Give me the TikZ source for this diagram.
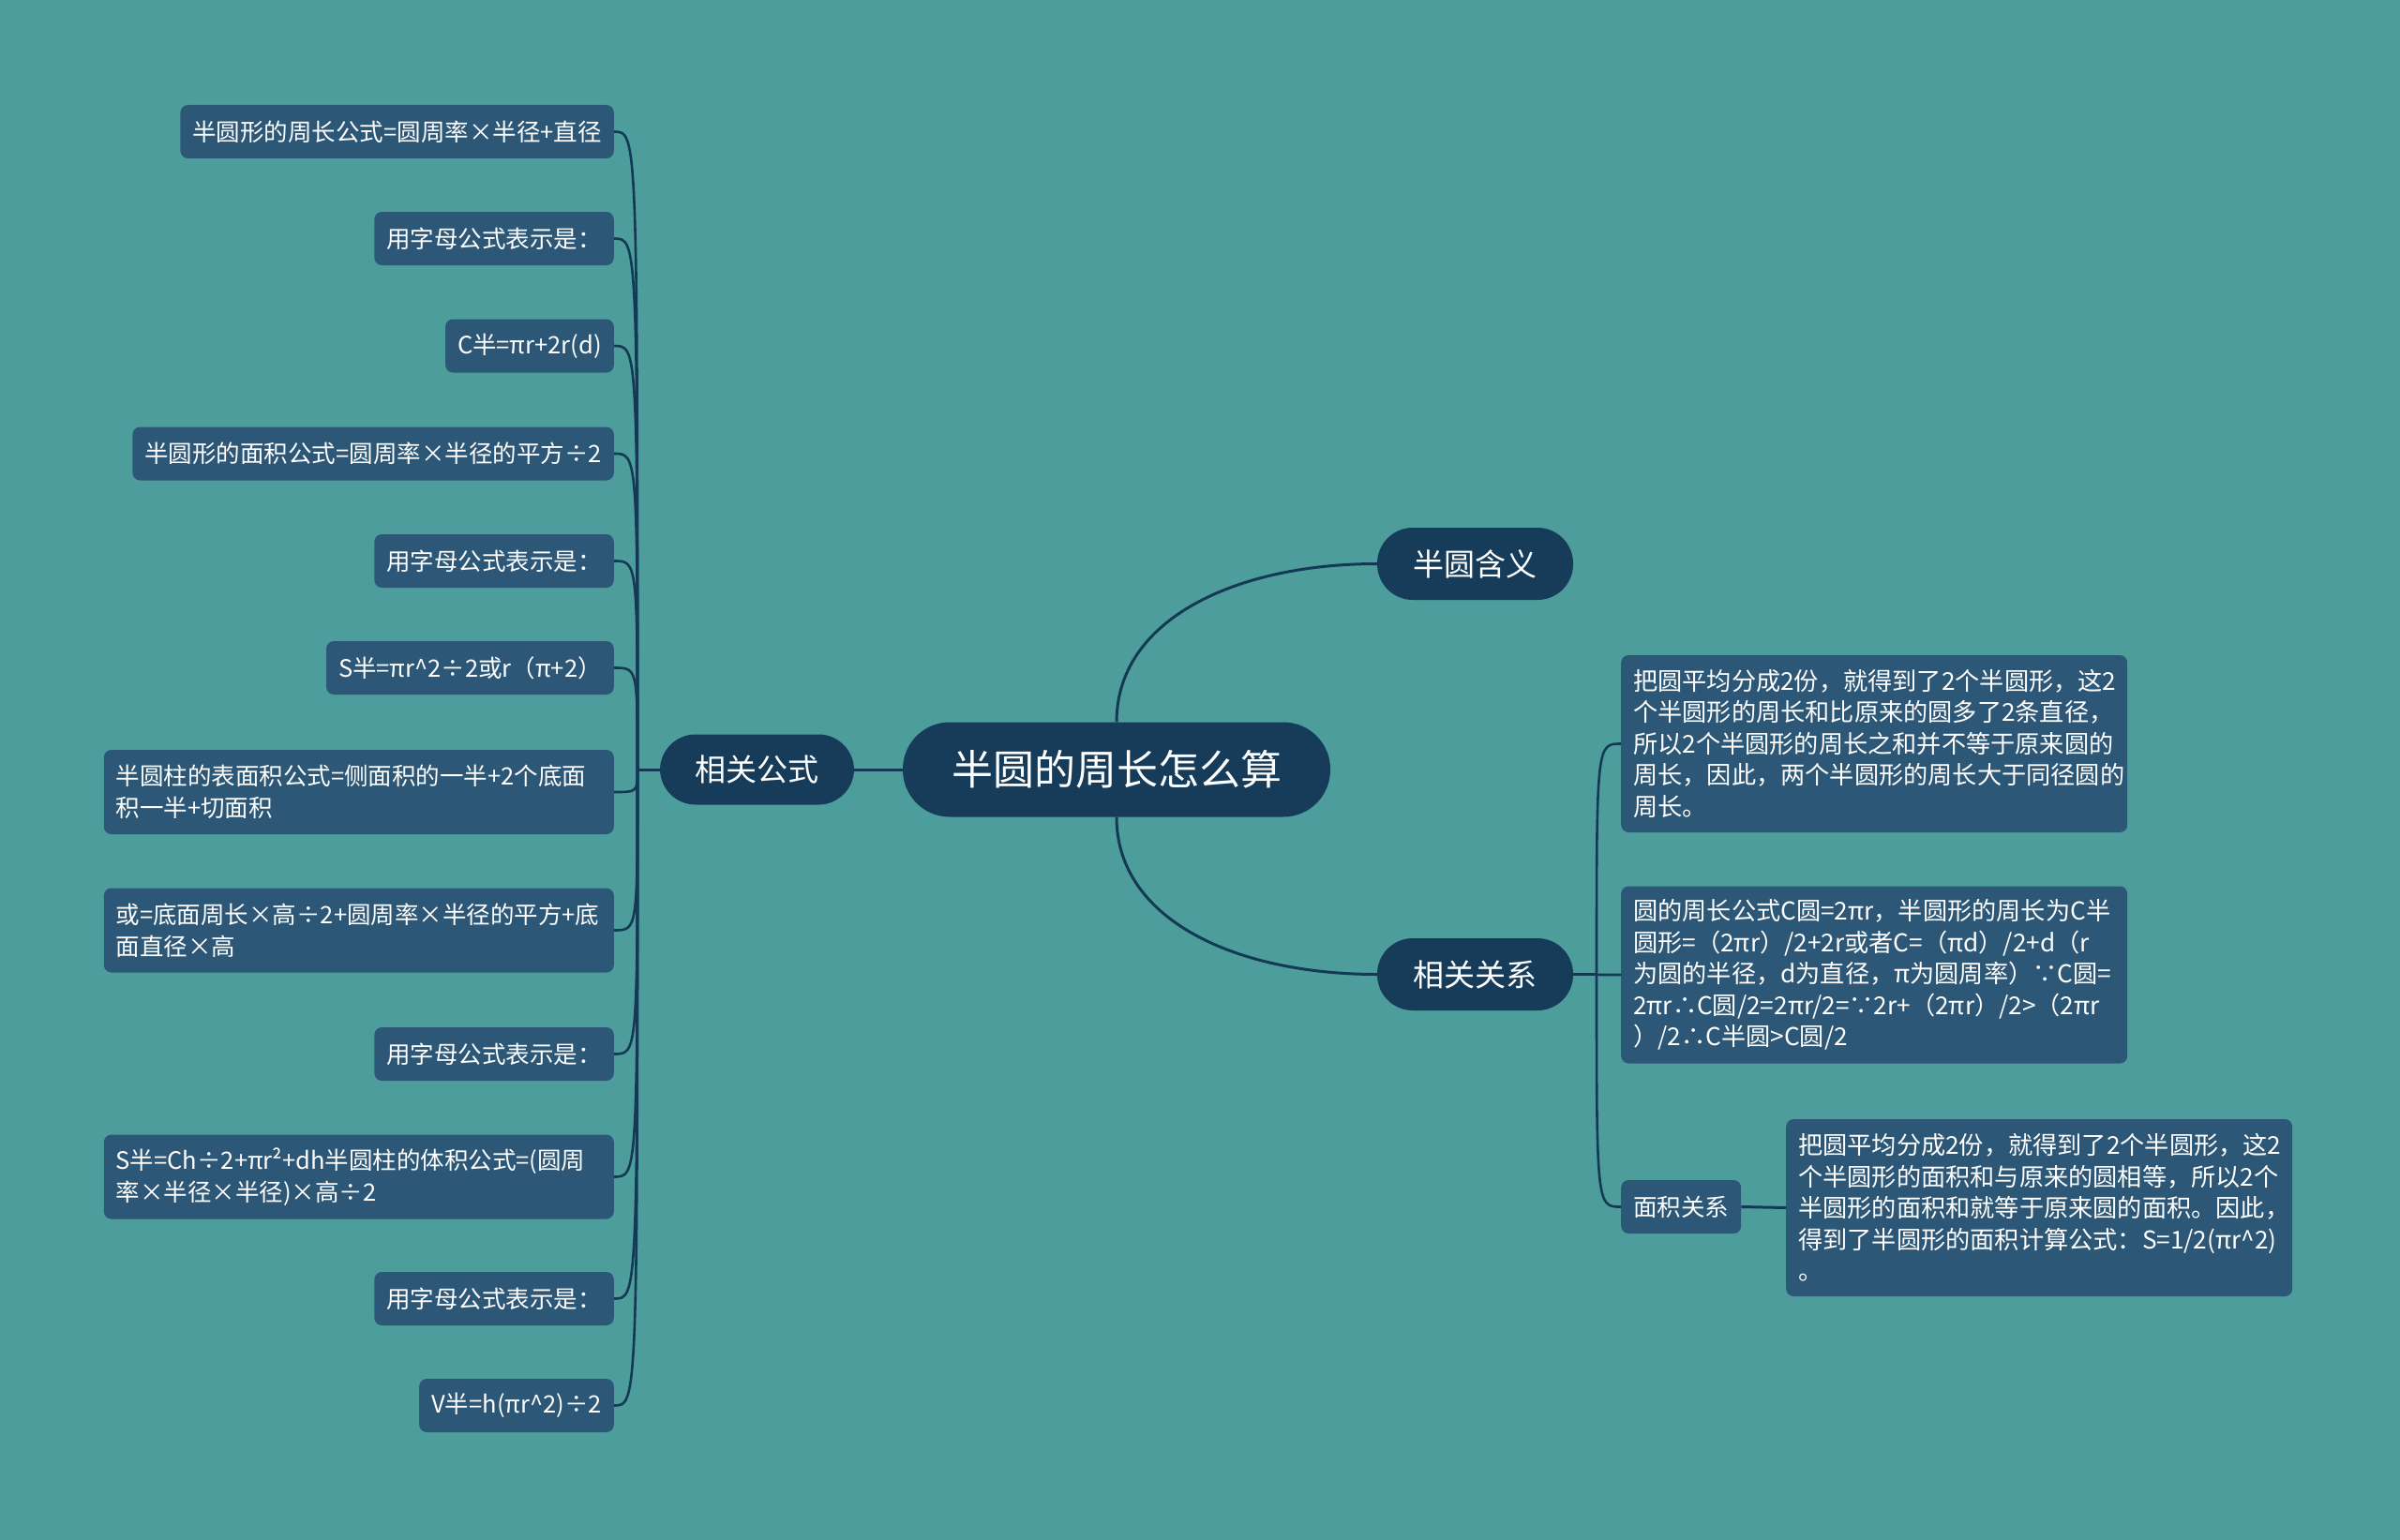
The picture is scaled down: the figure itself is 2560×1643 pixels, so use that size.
\documentclass[tikz,border=0pt]{standalone}
\usepackage{fontspec}
\newfontfamily\cjk{Noto Sans CJK SC}
\definecolor{bgc}{RGB}{78,157,157}
\definecolor{mainc}{RGB}{22,60,90}
\definecolor{leafc}{RGB}{45,87,118}
\definecolor{linec}{RGB}{20,57,84}
\begin{document}
\begin{tikzpicture}[x=1pt,y=-1pt,
  conn/.style={draw=linec, line width=3pt},
  leaf/.style={fill=leafc, text=white, rounded corners=8pt, inner xsep=13pt, inner ysep=0pt, minimum height=57pt, font=\cjk\fontsize{25.5}{33.5}\selectfont},
  leafw/.style={leaf, text width=518pt, align=left, minimum height=90pt},
  notebox/.style={leaf, text width=514pt, align=left, minimum height=189pt, font=\cjk\fontsize{26.2}{33.5}\selectfont},
  topic/.style={fill=mainc, text=white, rounded corners=38pt, minimum width=209pt, minimum height=77pt, inner sep=0pt, font=\cjk\fontsize{33}{40}\selectfont},
]
\fill[bgc] (0,0) rectangle (2560,1643);
\useasboundingbox (0,0) rectangle (2560,1643);

% central and main topics
\node[topic, minimum width=456pt, minimum height=101pt, rounded corners=50pt, font=\cjk\fontsize{44}{52}\selectfont] (c) at (1191,821) {半圆的周长怎么算};
\node[topic, minimum width=207pt, minimum height=75pt] (g) at (807.5,821) {相关公式};
\node[topic] (m1) at (1573.5,601.5) {半圆含义};
\node[topic] (m2) at (1573.5,1039.5) {相关关系};

% left leaves
\node[leaf, anchor=east] (l1) at (655,140.5) {半圆形的周长公式=圆周率×半径+直径};
\node[leaf, anchor=east] (l2) at (655,254.5) {用字母公式表示是：};
\node[leaf, anchor=east] (l3) at (655,369) {C半=πr+2r(d)};
\node[leaf, anchor=east] (l4) at (655,484) {半圆形的面积公式=圆周率×半径的平方÷2};
\node[leaf, anchor=east] (l5) at (655,598.5) {用字母公式表示是：};
\node[leaf, anchor=east] (l6) at (655,712.5) {S半=πr\textasciicircum2÷2或r（π+2）};
\node[leafw, anchor=east] (l7) at (655,845) {半圆柱的表面积公式=侧面积的一半+2个底面\\积一半+切面积};
\node[leafw, anchor=east] (l8) at (655,992.5) {或=底面周长×高÷2+圆周率×半径的平方+底\\面直径×高};
\node[leaf, anchor=east] (l9) at (655,1124.5) {用字母公式表示是：};
\node[leafw, anchor=east] (l10) at (655,1255.5) {S半=Ch÷2+πr²+dh半圆柱的体积公式=(圆周\\率×半径×半径)×高÷2};
\node[leaf, anchor=east] (l11) at (655,1385.5) {用字母公式表示是：};
\node[leaf, anchor=east] (l12) at (655,1499.5) {V半=h(πr\textasciicircum2)÷2};

% right side
\node[notebox, anchor=west] (r1) at (1729,793.5) {把圆平均分成2份，就得到了2个半圆形，这2\\个半圆形的周长和比原来的圆多了2条直径，\\所以2个半圆形的周长之和并不等于原来圆的\\周长，因此，两个半圆形的周长大于同径圆的\\周长。};
\node[notebox, anchor=west] (r2) at (1729,1040) {圆的周长公式C圆=2πr，半圆形的周长为C半\\圆形=（2πr）/2+2r或者C=（πd）/2+d（r\\为圆的半径，d为直径，π为圆周率）∵C圆=\\2πr∴C圆/2=2πr/2=∵2r+（2πr）/2>（2πr\\）/2∴C半圆>C圆/2};
\node[leaf, anchor=west] (a) at (1729,1287.5) {面积关系};
\node[notebox, anchor=west] (r3) at (1905,1288.5) {把圆平均分成2份，就得到了2个半圆形，这2\\个半圆形的面积和与原来的圆相等，所以2个\\半圆形的面积和就等于原来圆的面积。因此，\\得到了半圆形的面积计算公式：S=1/2(πr\textasciicircum2)\\。};

% hubs
\coordinate (hubL) at (680,821);
\coordinate (hubR) at (1703,1039.5);

% connectors
\draw[conn] (c.west) -- (g.east);
\draw[conn] (g.west) -- (hubL);
\foreach \n in {l1,l2,l3,l4,l5,l6,l7,l8,l9,l10,l11,l12}{
  \draw[conn, line width=2.6pt] (hubL) .. controls (hubL |- \n.east) and (hubL |- \n.east) .. (\n.east);
}
\draw[conn] (c.north) .. controls +(0,-110) and +(-150,0) .. (m1.west);
\draw[conn] (c.south) .. controls +(0,110) and +(-150,0) .. (m2.west);
\draw[conn] (m2.east) -- (hubR);
\foreach \n in {r1,r2,a}{
  \draw[conn, line width=2.6pt] (hubR) .. controls (hubR |- \n.west) and (hubR |- \n.west) .. (\n.west);
}
\draw[conn] (a.east) -- (r3.west);
\end{tikzpicture}
\end{document}
